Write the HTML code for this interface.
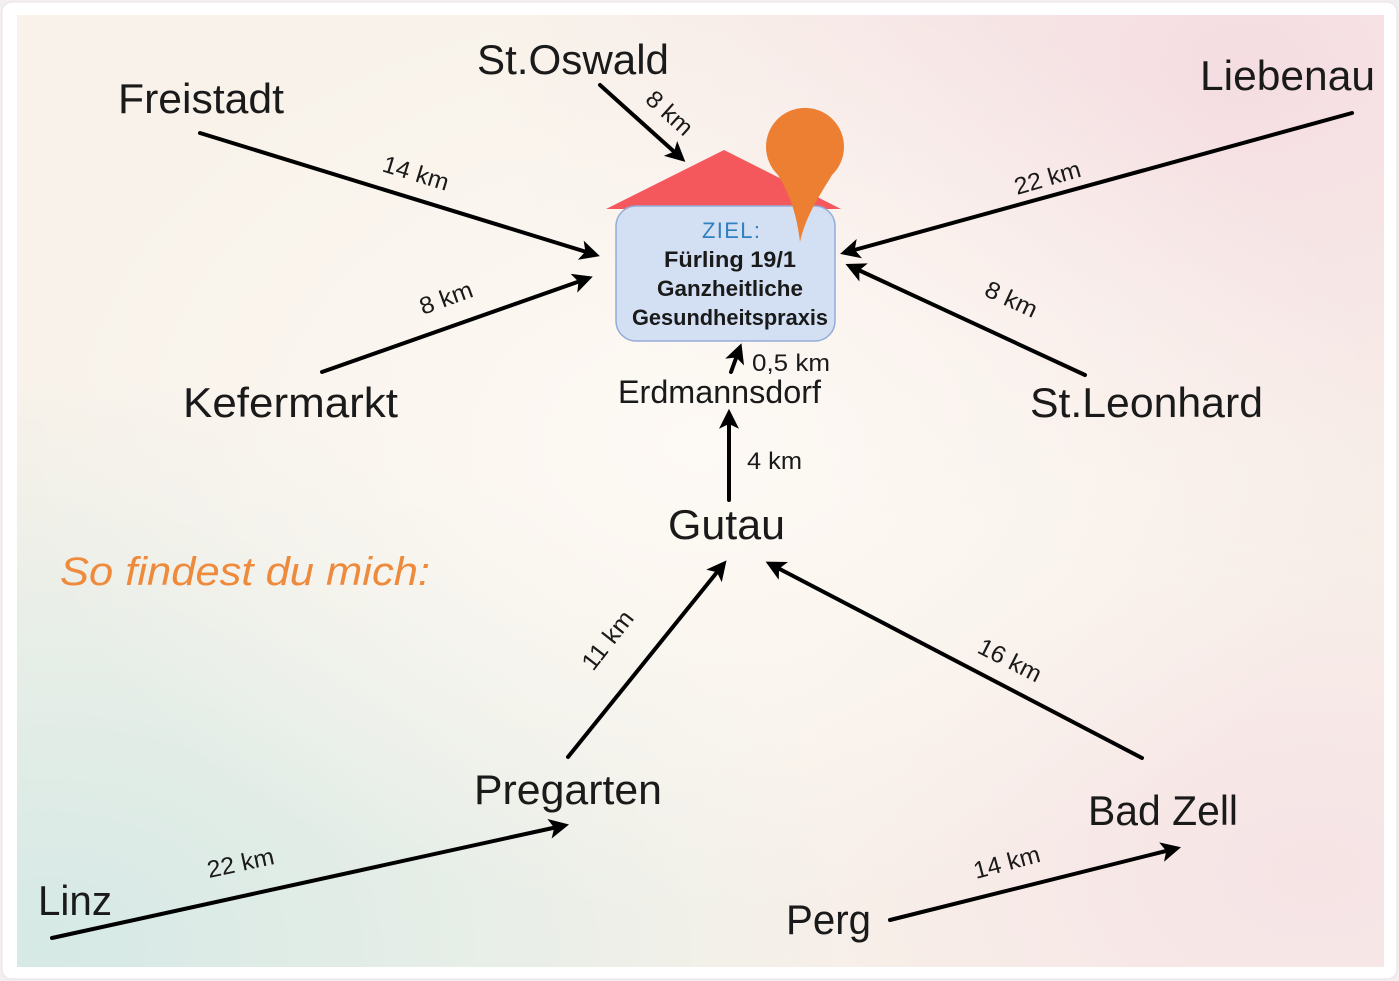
<!DOCTYPE html>
<html><head><meta charset="utf-8"><style>
html,body{margin:0;padding:0;background:#f3eef0;}
svg{display:block}
text{font-family:"Liberation Sans",sans-serif;fill:#1a1a1a}
</style></head><body>
<svg width="1399" height="981" viewBox="0 0 1399 981" xmlns="http://www.w3.org/2000/svg">
<defs>
<radialGradient id="g1" cx="0.9" cy="0.05" r="0.55"><stop offset="0" stop-color="#f5dde2"/><stop offset="1" stop-color="#f5dde2" stop-opacity="0"/></radialGradient>
<radialGradient id="g2" cx="0.02" cy="0.98" r="0.6"><stop offset="0" stop-color="#d5e9e5"/><stop offset="1" stop-color="#d5e9e5" stop-opacity="0"/></radialGradient>
<radialGradient id="g3" cx="0.5" cy="0.45" r="0.5"><stop offset="0" stop-color="#fdf9f4"/><stop offset="1" stop-color="#fdf9f4" stop-opacity="0"/></radialGradient>
<radialGradient id="g4" cx="0.95" cy="0.9" r="0.45"><stop offset="0" stop-color="#f6e3e5"/><stop offset="1" stop-color="#f6e3e5" stop-opacity="0"/></radialGradient>
<marker id="a" markerWidth="5" markerHeight="5" refX="3.2" refY="2.5" orient="auto" markerUnits="strokeWidth"><path d="M0,0 L5,2.5 L0,5 L1.2,2.5 z" fill="#000"/></marker>
</defs>
<rect x="2" y="2" width="1395" height="977" rx="10" fill="#fff" stroke="#e9e2e6"/>
<rect x="17" y="15" width="1367" height="952" fill="#f8f2ea"/>
<rect x="17" y="15" width="1367" height="952" fill="url(#g1)"/>
<rect x="17" y="15" width="1367" height="952" fill="url(#g2)"/>
<rect x="17" y="15" width="1367" height="952" fill="url(#g4)"/>
<rect x="17" y="15" width="1367" height="952" fill="url(#g3)"/>

<g stroke="#000" stroke-width="4" fill="none" marker-end="url(#a)" stroke-linecap="round">
<line x1="600" y1="85" x2="680" y2="157"/>
<line x1="200" y1="133" x2="593" y2="254"/>
<line x1="322" y1="372" x2="586" y2="279"/>
<line x1="1352" y1="113" x2="847" y2="252"/>
<line x1="1085" y1="375" x2="852" y2="267"/>
<line x1="731" y1="372" x2="739" y2="350"/>
<line x1="729" y1="500" x2="729" y2="416"/>
<line x1="568" y1="757" x2="722" y2="566"/>
<line x1="1142" y1="758" x2="772" y2="565"/>
<line x1="52" y1="938" x2="562" y2="826"/>
<line x1="890" y1="920" x2="1174" y2="849"/>
</g>

<polygon points="606,209 724,150 841,209" fill="#f4585d"/>
<rect x="616" y="206" width="219" height="135" rx="20" fill="#d3e0f3" stroke="#93acd8" stroke-width="1.5"/>
<path d="M800,242 C797,215 790,195 778,175 A39,39 0 1 1 832,175 C820,195 806,215 800,242 z" fill="#ec7f31"/>
<text x="731" y="238" font-size="22" text-anchor="middle" style="fill:#2f80c0" textLength="58">ZIEL:</text>
<text x="730" y="267" font-size="22" font-weight="bold" text-anchor="middle" textLength="132" lengthAdjust="spacingAndGlyphs">Fürling 19/1</text>
<text x="730" y="296" font-size="22" font-weight="bold" text-anchor="middle" textLength="146" lengthAdjust="spacingAndGlyphs">Ganzheitliche</text>
<text x="730" y="325" font-size="22" font-weight="bold" text-anchor="middle" textLength="196" lengthAdjust="spacingAndGlyphs">Gesundheitspraxis</text>

<g lengthAdjust="spacingAndGlyphs">
<text x="118" y="113" font-size="42" textLength="166" lengthAdjust="spacingAndGlyphs">Freistadt</text>
<text x="477" y="74" font-size="42" textLength="192" lengthAdjust="spacingAndGlyphs">St.Oswald</text>
<text x="1200" y="90" font-size="42" textLength="175" lengthAdjust="spacingAndGlyphs">Liebenau</text>
<text x="183" y="417" font-size="42" textLength="215" lengthAdjust="spacingAndGlyphs">Kefermarkt</text>
<text x="618" y="403" font-size="32" textLength="203" lengthAdjust="spacingAndGlyphs">Erdmannsdorf</text>
<text x="1030" y="417" font-size="42" textLength="233" lengthAdjust="spacingAndGlyphs">St.Leonhard</text>
<text x="668" y="539" font-size="42" textLength="117" lengthAdjust="spacingAndGlyphs">Gutau</text>
<text x="474" y="804" font-size="42" textLength="188" lengthAdjust="spacingAndGlyphs">Pregarten</text>
<text x="1088" y="825" font-size="42" textLength="150" lengthAdjust="spacingAndGlyphs">Bad Zell</text>
<text x="38" y="915" font-size="42" textLength="74" lengthAdjust="spacingAndGlyphs">Linz</text>
<text x="786" y="934" font-size="42" textLength="85" lengthAdjust="spacingAndGlyphs">Perg</text>
</g>
<text x="60" y="585" font-size="40" font-style="italic" style="fill:#ee8a3c" textLength="370" lengthAdjust="spacingAndGlyphs">So findest du mich:</text>

<g font-size="24">
<text x="752" y="371" textLength="78" lengthAdjust="spacingAndGlyphs">0,5 km</text>
<text x="747" y="469" textLength="55" lengthAdjust="spacingAndGlyphs">4 km</text>
<text transform="translate(644,101) rotate(42)" textLength="54" lengthAdjust="spacingAndGlyphs">8 km</text>
<text transform="translate(381,171) rotate(17)" textLength="68" lengthAdjust="spacingAndGlyphs">14 km</text>
<text transform="translate(423,315) rotate(-20)" textLength="55" lengthAdjust="spacingAndGlyphs">8 km</text>
<text transform="translate(1017,195) rotate(-16)" textLength="68" lengthAdjust="spacingAndGlyphs">22 km</text>
<text transform="translate(983,295) rotate(25)" textLength="55" lengthAdjust="spacingAndGlyphs">8 km</text>
<text transform="translate(593,672) rotate(-52)" textLength="68" lengthAdjust="spacingAndGlyphs">11 km</text>
<text transform="translate(976,652) rotate(27)" textLength="68" lengthAdjust="spacingAndGlyphs">16 km</text>
<text transform="translate(209,878) rotate(-12)" textLength="68" lengthAdjust="spacingAndGlyphs">22 km</text>
<text transform="translate(976,879) rotate(-15)" textLength="68" lengthAdjust="spacingAndGlyphs">14 km</text>
</g>
</svg>
</body></html>
